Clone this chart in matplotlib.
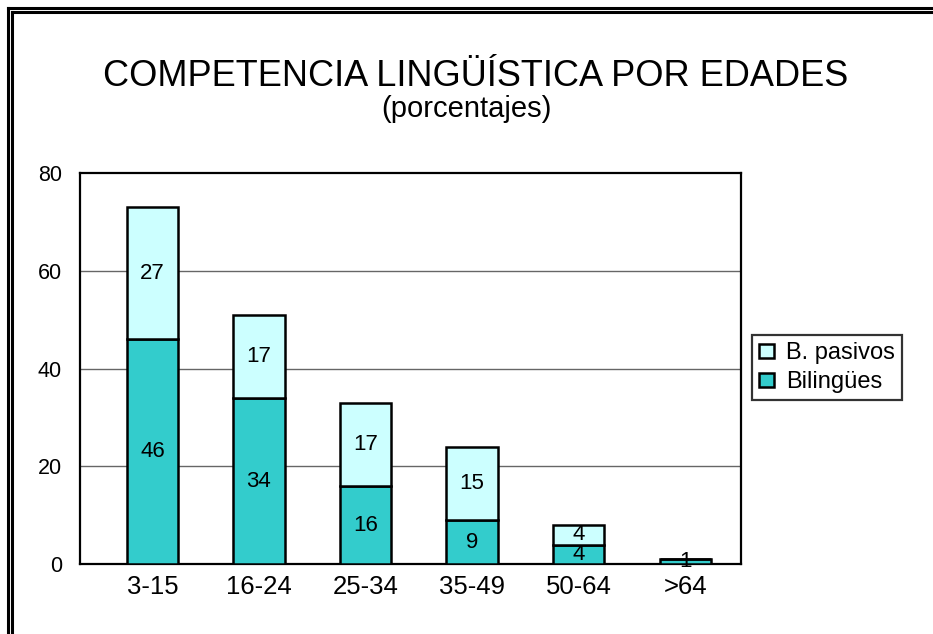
import matplotlib.pyplot as plt
from matplotlib.lines import Line2D
import numpy as np

plt.rcParams['font.family'] = ['Liberation Sans', 'DejaVu Sans']

edades = ['3-15', '16-24', '25-34', '35-49', '50-64', '>64']
bilingues = [46, 34, 16, 9, 4, 1]
pasivos = [27, 17, 17, 15, 4, 0]

color_bil = '#33CCCC'
color_pas = '#CCFFFF'

fig = plt.figure(figsize=(9.33, 6.34), dpi=100)
ax = fig.add_axes([0.0857, 0.110, 0.708, 0.617])

x = np.arange(len(edades))
w = 0.48
b1 = ax.bar(x, bilingues, w, color=color_bil, edgecolor='black', linewidth=1.8, label='Bilingües', zorder=3)
b2 = ax.bar(x, pasivos, w, bottom=bilingues, color=color_pas, edgecolor='black', linewidth=1.8,
            label='B. pasivos', zorder=3)

# etiquetas de valores en el centro de cada tramo
for i in range(len(edades)):
    if bilingues[i] > 0:
        ax.text(x[i], bilingues[i] / 2, str(bilingues[i]), ha='center', va='center', fontsize=16, zorder=4)
    if pasivos[i] > 0:
        ax.text(x[i], bilingues[i] + pasivos[i] / 2, str(pasivos[i]), ha='center', va='center',
                fontsize=16, zorder=4)

ax.set_xlim(-0.68, 5.52)
ax.set_ylim(0, 80)
ax.set_yticks([0, 20, 40, 60, 80])
ax.set_xticks(x)
ax.set_xticklabels(edades, fontsize=18.5)
ax.tick_params(axis='y', labelsize=15.5, length=0, pad=13)
ax.tick_params(axis='x', length=0, pad=8)
for v in [20, 40, 60]:
    ax.axhline(v, color='#666666', linewidth=1.0, zorder=1)
for s in ax.spines.values():
    s.set_linewidth(1.6)

fig.text(0.510, 0.879, 'COMPETENCIA LINGÜÍSTICA POR EDADES', ha='center', va='center', fontsize=26)
fig.text(0.500, 0.828, '(porcentajes)', ha='center', va='center', fontsize=21)

leg = ax.legend(handles=[b2, b1], loc='center left', bbox_to_anchor=(0.806, 0.420),
                bbox_transform=fig.transFigure, fontsize=17, frameon=True, fancybox=False,
                edgecolor='black', handlelength=0.65, handleheight=0.5, handletextpad=0.5,
                borderpad=0.3, labelspacing=0.3, borderaxespad=0)
leg.get_frame().set_linewidth(1.6)

# marco doble (izquierda y arriba)
W, H = 933, 634
for p in [8, 12]:
    fig.add_artist(Line2D([p / W, p / W], [0, 1 - p / H], transform=fig.transFigure, color='black', linewidth=2.2))
    fig.add_artist(Line2D([p / W, 1], [1 - p / H, 1 - p / H], transform=fig.transFigure, color='black', linewidth=2.2))

fig.savefig('out.png', dpi=100)
